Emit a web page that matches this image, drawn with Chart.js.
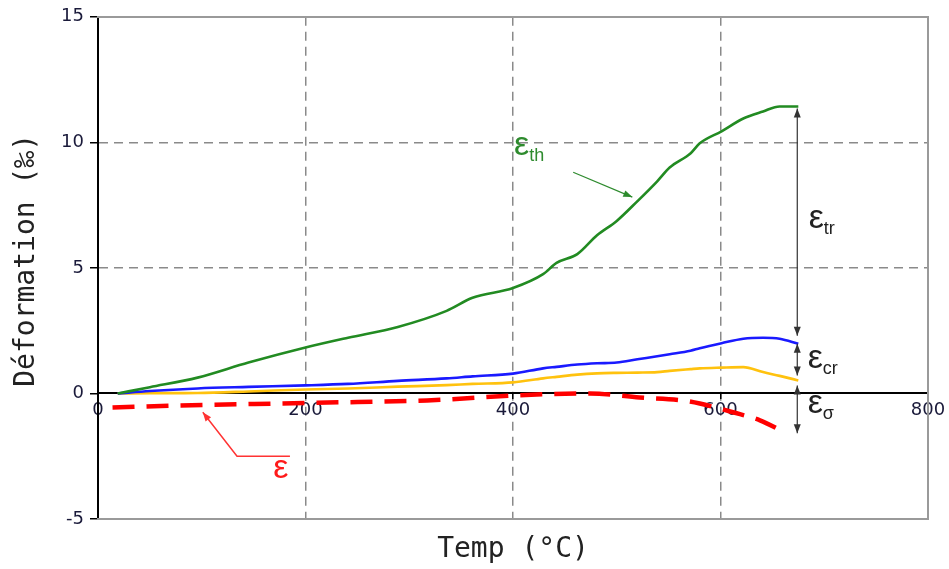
<!DOCTYPE html>
<html><head><meta charset="utf-8">
<style>html,body{margin:0;padding:0;background:#fff;}#wrap{width:949px;height:569px;}</style>
<script src="https://cdn.jsdelivr.net/npm/chart.js@4.4.0/dist/chart.umd.min.js"></script>
</head><body><div id="wrap"><canvas id="c" width="949" height="569"></canvas></div>
<script>
// Temperatures (°C) sampled along the curves
const temps = [19, 50, 96, 145, 200, 241, 289, 336, 361, 400, 429, 442, 462, 481, 500, 520, 539, 551, 571, 580, 601, 622, 641, 657, 675];
// ε_th (green)
const epsTh = [0, 0.25, 0.63, 1.23, 1.83, 2.22, 2.65, 3.29, 3.81, 4.2, 4.75, 5.2, 5.55, 6.3, 6.87, 7.66, 8.45, 9.0, 9.56, 9.96, 10.44, 10.95, 11.23, 11.43, 11.43];
// blue curve
const epsBlue = [0, 0.1, 0.2, 0.26, 0.32, 0.38, 0.5, 0.6, 0.68, 0.79, 1.0, 1.06, 1.15, 1.2, 1.23, 1.36, 1.48, 1.56, 1.7, 1.8, 2.0, 2.18, 2.22, 2.18, 1.98];
// yellow curve
const epsYellow = [0, 0.01, 0.02, 0.08, 0.16, 0.2, 0.27, 0.33, 0.38, 0.44, 0.6, 0.66, 0.75, 0.8, 0.82, 0.83, 0.85, 0.9, 0.97, 1.0, 1.03, 1.05, 0.85, 0.7, 0.52];
// ε total (red dashed)
const epsTemps = [14, 79, 175, 250, 317, 400, 474, 522, 564, 580, 612, 638, 662];
const eps = [-0.56, -0.48, -0.4, -0.34, -0.28, -0.08, 0, -0.16, -0.28, -0.4, -0.75, -1.07, -1.55];

const xTicks = [0, 200, 400, 600, 800];
const yTicks = [-5, 0, 5, 10, 15];
const xGridValues = [200, 400, 600];
const yGridValues = [5, 10];

const yTitle = 'Déformation (‰)';
const xTitle = 'Temp (°C)';

// annotation labels (data units)
const labels = [
  {t: 'ε', sub: 'th', x: 401, y: 9.84, color: '#2e8b2e'},
  {t: 'ε', sub: 'tr', x: 685, y: 6.94, color: '#222'},
  {t: 'ε', sub: 'cr', x: 684, y: 1.39, color: '#222'},
  {t: 'ε', sub: 'σ', x: 684, y: -0.44, color: '#222'},
  {t: 'ε', sub: '', x: 169, y: -3.02, color: '#ff1a1a'}
];
// arrows: polyline points in data units
const arrows = [
  {pts: [[674, 11.35], [674, 2.3]], heads: 'both', color: '#333', w: 1.2},
  {pts: [[674, 1.98], [674, 0.71]], heads: 'both', color: '#333', w: 1.2},
  {pts: [[674, 0.32], [674, -1.59]], heads: 'both', color: '#333', w: 1.2},
  {pts: [[458, 8.81], [515, 7.82]], heads: 'end', color: '#2e8b2e', w: 1.2},
  {pts: [[185, -2.5], [134, -2.5], [101, -0.75]], heads: 'end', color: '#ff3333', w: 1.5}
];

const pts = (xs, ys) => xs.map((x, i) => ({x: x, y: ys[i]}));

function head(ctx, x1, y1, x2, y2, color) {
  const a = Math.atan2(y2 - y1, x2 - x1), L = 9, W = 3.5;
  ctx.save();
  ctx.fillStyle = color;
  ctx.translate(x2, y2); ctx.rotate(a);
  ctx.beginPath(); ctx.moveTo(0, 0); ctx.lineTo(-L, W); ctx.lineTo(-L, -W); ctx.closePath(); ctx.fill();
  ctx.restore();
}

const annot = {
  id: 'annot',
  afterDraw(chart) {
    const ctx = chart.ctx, ys = chart.scales.y;
    // y axis title
    ctx.save();
    ctx.fillStyle = '#222';
    ctx.font = '28px "DejaVu Sans Mono", monospace';
    ctx.textAlign = 'center'; ctx.textBaseline = 'middle';
    ctx.translate(27, ys.getPixelForValue(5.3));
    ctx.rotate(-Math.PI / 2);
    ctx.fillText(yTitle, 0, 0);
    ctx.restore();
  },
  afterDatasetsDraw(chart) {
    const ctx = chart.ctx, xs = chart.scales.x, ys = chart.scales.y;
    arrows.forEach(a => {
      const p = a.pts.map(q => [xs.getPixelForValue(q[0]), ys.getPixelForValue(q[1])]);
      ctx.save();
      ctx.strokeStyle = a.color; ctx.lineWidth = a.w;
      ctx.beginPath(); ctx.moveTo(p[0][0], p[0][1]);
      for (let i = 1; i < p.length; i++) ctx.lineTo(p[i][0], p[i][1]);
      ctx.stroke(); ctx.restore();
      const n = p.length;
      if (a.heads === 'end' || a.heads === 'both') head(ctx, p[n-2][0], p[n-2][1], p[n-1][0], p[n-1][1], a.color);
      if (a.heads === 'start' || a.heads === 'both') head(ctx, p[1][0], p[1][1], p[0][0], p[0][1], a.color);
    });
    labels.forEach(l => {
      const px = xs.getPixelForValue(l.x), py = ys.getPixelForValue(l.y);
      ctx.save();
      ctx.fillStyle = l.color;
      ctx.textAlign = 'left'; ctx.textBaseline = 'alphabetic';
      ctx.font = '34px "Liberation Sans", Arial, sans-serif';
      ctx.fillText(l.t, px, py + 9);
      const w = ctx.measureText(l.t).width;
      if (l.sub) {
        ctx.font = '18px "Liberation Sans", Arial, sans-serif';
        ctx.fillText(l.sub, px + w, py + 15);
      }
      ctx.restore();
    });
  }
};

const tickFont = {family: '"DejaVu Sans", Verdana, sans-serif', size: 18};
const titleFont = {family: '"DejaVu Sans Mono", monospace', size: 28};

new Chart(document.getElementById('c'), {
  type: 'line',
  data: {
    datasets: [
      {data: pts(temps, epsTh), borderColor: '#228b22', borderWidth: 2.6},
      {data: pts(temps, epsBlue), borderColor: '#1a1aff', borderWidth: 2.6},
      {data: pts(temps, epsYellow), borderColor: '#ffc20e', borderWidth: 2.6},
      {data: pts(epsTemps, eps), borderColor: '#ff0000', borderWidth: 4.5, borderDash: [22, 12]}
    ]
  },
  options: {
    responsive: false,
    animation: false,
    layout: {padding: 0},
    elements: {point: {radius: 0}, line: {cubicInterpolationMode: 'monotone', fill: false}},
    plugins: {legend: {display: false}, tooltip: {enabled: false}},
    scales: {
      x: {
        type: 'linear', position: {y: 0}, min: 0, max: 800,
        afterBuildTicks: s => { s.ticks = xTicks.map(v => ({value: v})); },
        ticks: {font: tickFont, color: '#1a1a3a', padding: 1, maxRotation: 0},
        grid: {
          color: c => (c.tick && xGridValues.includes(c.tick.value)) ? '#8a8a8a' : 'rgba(0,0,0,0)',
          lineWidth: 1.5, tickColor: '#000', tickLength: 5, drawOnChartArea: true
        },
        border: {color: '#000', width: 2, dash: [9, 6]}
      },
      y: {
        type: 'linear', position: 'left', min: -5, max: 15,
        afterBuildTicks: s => { s.ticks = yTicks.map(v => ({value: v})); },
        afterFit: s => { s.width = 98; },
        ticks: {font: tickFont, color: '#1a1a3a', padding: 6},
        grid: {
          color: c => (c.tick && yGridValues.includes(c.tick.value)) ? '#8a8a8a' : 'rgba(0,0,0,0)',
          lineWidth: 1.5, tickColor: '#000', tickLength: 8
        },
        border: {color: '#000', width: 2, dash: [9, 6]},
        title: {display: false}
      },
      x2: {
        type: 'linear', position: 'bottom', min: 0, max: 800, display: true,
        afterFit: s => { s.height = 50; },
        ticks: {display: false}, grid: {display: false},
        border: {color: '#9a9a9a', width: 2},
        title: {display: true, text: xTitle, font: titleFont, color: '#222', padding: {top: 0, bottom: 2}}
      },
      xTop: {
        type: 'linear', position: 'top', min: 0, max: 800, display: true,
        afterFit: s => { s.height = 15; },
        ticks: {display: false}, grid: {display: false},
        border: {color: '#9a9a9a', width: 2}
      },
      yRight: {
        type: 'linear', position: 'right', min: -5, max: 15, display: true,
        afterFit: s => { s.width = 21; },
        ticks: {display: false}, grid: {display: false},
        border: {color: '#9a9a9a', width: 2}
      }
    }
  },
  plugins: [annot]
});
</script>
</body></html>
